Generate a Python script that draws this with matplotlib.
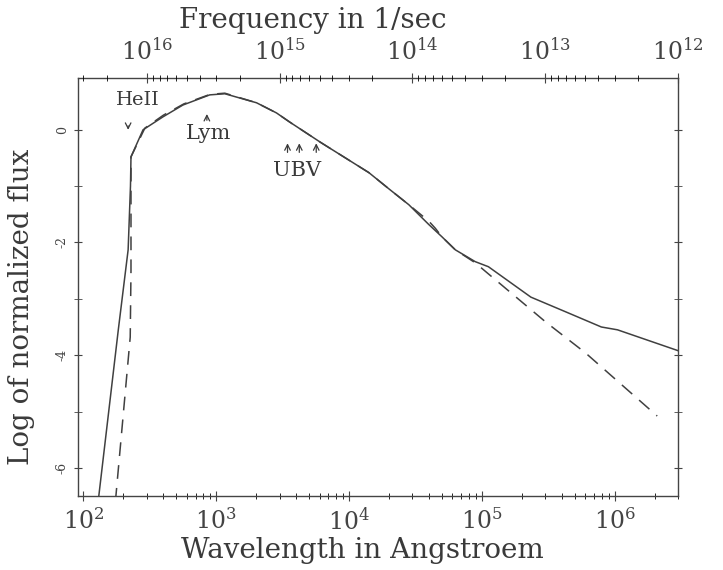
import matplotlib
matplotlib.use("Agg")
import matplotlib.pyplot as plt
from matplotlib.ticker import LogLocator, FixedLocator, NullFormatter

plt.rcParams['font.family'] = 'DejaVu Serif'
plt.rcParams['mathtext.fontset'] = 'dejavuserif'

# wavelength in Angstroem, log of normalized flux
wave_solid = [129, 183, 217, 226, 228, 281, 397, 561, 893, 1160, 2010, 2840, 3560,
              6170, 14100, 20000, 28200, 39800, 50100, 63100, 89100, 112000,
              234000, 427000, 794000, 1050000, 3000000]
flux_solid = [-6.6, -3.55, -2.13, -1.0, -0.48, 0.0, 0.23, 0.44, 0.62, 0.64, 0.48, 0.30, 0.14,
              -0.23, -0.76, -1.05, -1.33, -1.68, -1.9, -2.13, -2.34, -2.43,
              -2.97, -3.23, -3.50, -3.55, -3.92]

wave_dash = [174, 225, 228, 228, 290, 400, 570, 900, 1160, 2010, 2840, 3560,
             6170, 14100, 20000, 28200, 39800, 44700, 50100, 63100, 89100, 115000,
             302000, 603000, 2090000]
flux_dash = [-6.6, -3.68, -2.5, -0.48, 0.03, 0.26, 0.46, 0.63, 0.65, 0.48, 0.30, 0.14,
             -0.23, -0.76, -1.05, -1.33, -1.62, -1.75, -1.9, -2.13, -2.36, -2.58,
             -3.41, -3.96, -5.08]

c_ang = 3e18  # speed of light in Angstroem/sec
freq_ticks = [1e16, 1e15, 1e14, 1e13, 1e12]
freq_labels = [r'$10^{16}$', r'$10^{15}$', r'$10^{14}$', r'$10^{13}$', r'$10^{12}$']

fig = plt.figure(figsize=(7.23, 5.70), dpi=100)
ax = fig.add_axes([0.1079, 0.1298, 0.8299, 0.7334])

line_col = '#404040'
ax.plot(wave_solid, flux_solid, color=line_col, lw=1.1)
ax.plot(wave_dash, flux_dash, color=line_col, lw=1.1, linestyle=(0, (9, 6)))

ax.set_xscale('log')
ax.set_xlim(91, 3e6)
ax.set_ylim(-6.5, 0.92)

ax.xaxis.set_minor_locator(LogLocator(base=10, subs=range(2, 10), numticks=20))
ax.xaxis.set_minor_formatter(NullFormatter())
ax.set_xticks([1e2, 1e3, 1e4, 1e5, 1e6])
ax.set_xticklabels([r'$10^2$', r'$10^3$', r'$10^4$', r'$10^5$', r'$10^6$'])
ax.tick_params(axis='x', labelsize=17, colors='#444444', direction='inout', length=7, pad=5)
ax.tick_params(axis='x', which='minor', direction='inout', length=4)

ax.set_yticks([0, -2, -4, -6])
ax.yaxis.set_minor_locator(FixedLocator([-1, -3, -5]))
ax.set_yticklabels(['0', '-2', '-4', '-6'], rotation=90, va='center')
ax.tick_params(axis='y', which='both', direction='inout', length=6, labelsize=9,
               colors='#444444', right=True)

for s in ax.spines.values():
    s.set_color('#444444')
    s.set_linewidth(1.0)

# top axis in frequency
ax2 = ax.twiny()
ax2.set_xscale('log')
ax2.set_xlim(c_ang / 91, c_ang / 3e6)
ax2.set_xticks(freq_ticks)
ax2.set_xticklabels(freq_labels)
ax2.xaxis.set_minor_locator(LogLocator(base=10, subs=range(2, 10), numticks=20))
ax2.xaxis.set_minor_formatter(NullFormatter())
ax2.tick_params(axis='x', labelsize=17, colors='#444444', direction='inout', length=7, pad=6)
ax2.tick_params(axis='x', which='minor', direction='inout', length=4)
for s in ax2.spines.values():
    s.set_visible(False)

# annotations
tc = '#3a3a3a'
ax.text(258, 0.53, 'HeII', fontsize=14, color=tc, ha='center', va='center')
ax.annotate('', xy=(217, -0.05), xytext=(217, 0.12),
            arrowprops=dict(arrowstyle='->', color=tc, lw=0.9))
ax.text(880, -0.07, 'Lym', fontsize=15, color=tc, ha='center', va='center')
ax.annotate('', xy=(850, 0.33), xytext=(850, 0.12),
            arrowprops=dict(arrowstyle='->', color=tc, lw=0.9))
ax.text(4070, -0.73, 'UBV', fontsize=15, color=tc, ha='center', va='center')
for w in [3440, 4220, 5660]:
    ax.annotate('', xy=(w, -0.19), xytext=(w, -0.45),
                arrowprops=dict(arrowstyle='->', color=tc, lw=0.9))

fig.text(313 / 723, 1 - 20 / 570, 'Frequency in 1/sec', fontsize=20, color=tc,
         ha='center', va='center')
fig.text(362 / 723, 1 - 550 / 570, 'Wavelength in Angstroem', fontsize=20, color=tc,
         ha='center', va='center')
fig.text(22 / 723, 1 - 307 / 570, 'Log of normalized flux', fontsize=20, color=tc,
         ha='center', va='center', rotation=90)

fig.savefig('out.png', dpi=100)
